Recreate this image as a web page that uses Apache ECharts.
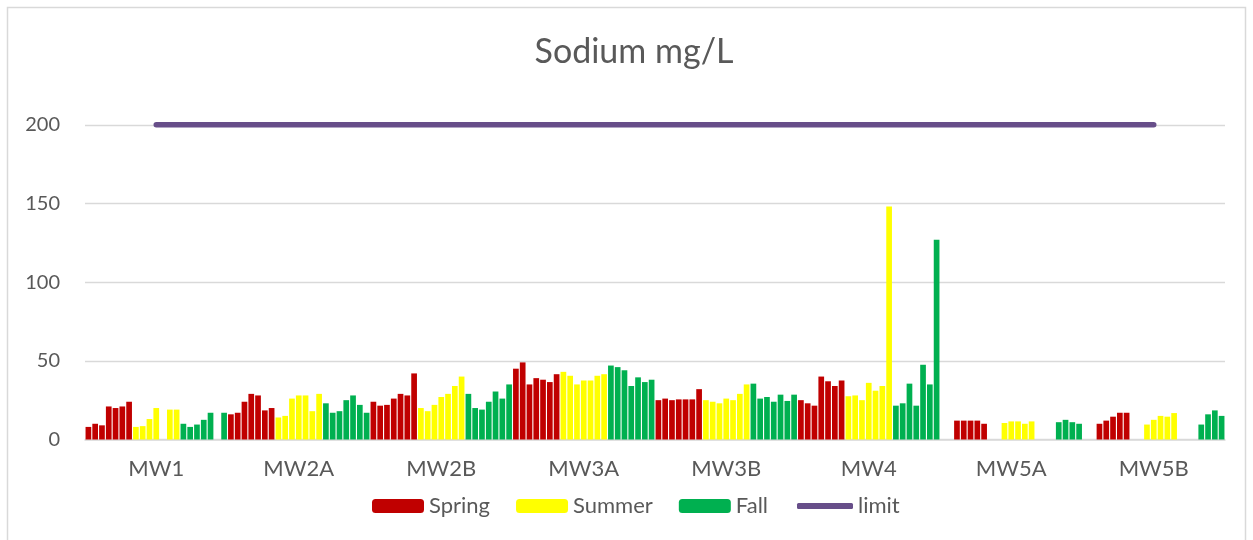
<!DOCTYPE html>
<html>
<head>
<meta charset="utf-8">
<script src="https://cdn.jsdelivr.net/npm/echarts@6/dist/echarts.min.js"></script>
<style>
html,body{margin:0;padding:0;background:#fff;}
#c{width:1253px;height:540px;}
</style>
</head>
<body>
<div id="c"></div>
<script>
// Wells (category groups) and seasonal samples (7 sampling years per season)
const wells = ['MW1','MW2A','MW2B','MW3A','MW3B','MW4','MW5A','MW5B'];
const spring = [
  [8,10,9,21,20,21,24],
  [16,17,24,29,28,18.5,20],
  [24,21.5,22,26,29,28,42],
  [45,49,35,39,38,36.5,41.5],
  [25,26,25,25.5,25.5,25.5,32],
  [25,23,21.5,40,37,34,37.5],
  [null,null,12,12,12,12,10],
  [null,null,10,12,14.5,17,17]
];
const summer = [
  [8,8.5,13,20,null,19,19],
  [14,15,26,28,28,18,29],
  [20,18,22,27,29,34,40],
  [43,40.5,35,37.5,37.5,40.5,41.5],
  [25,24,23,26,25,29,35],
  [27.5,28,25,36,31,34,148],
  [null,null,10.5,11.5,11.5,10,11.5],
  [null,null,9.5,12.5,15,14.5,16.8]
];
const fall = [
  [10,8,9.5,12.5,17,null,17],
  [23,17,18,25,28,22,17],
  [29,20,19,24,30.5,26,35],
  [47,46,44,34,39.5,36.5,38],
  [35.5,26,27,24,28.5,24.5,28.5],
  [21.5,23,35.5,21.5,47.5,35,127],
  [null,null,null,11,12.5,11,10],
  [null,null,null,9.5,16,18.5,15]
];
const limit = [200,200,200,200,200,200,200,200];
const yTicks = [0,50,100,150,200];

// Build slot-level data (each well: 7 spring + 7 summer + 7 fall slots)
const cats = [], sSpring = [], sSummer = [], sFall = [], sLimit = [];
wells.forEach((w, g) => {
  const seasons = [spring[g], summer[g], fall[g]];
  seasons.forEach((arr, si) => {
    arr.forEach((v, k) => {
      const slot = si * 7 + k;
      cats.push(w);
      sSpring.push(si === 0 ? v : null);
      sSummer.push(si === 1 ? v : null);
      sFall.push(si === 2 ? v : null);
      sLimit.push(slot === 10 ? limit[g] : null);
    });
  });
});

const FONT = 'Lato';
const TXT = '#595959';
const LIMIT_COLOR = '#674E89';
const chart = echarts.init(document.getElementById('c'), null, {renderer: 'canvas'});
chart.setOption({
  animation: false,
  backgroundColor: '#ffffff',
  textStyle: {fontFamily: FONT},
  title: {
    text: 'Sodium mg/L',
    left: 629, top: 30, textAlign: 'center',
    textStyle: {fontFamily: FONT, fontSize: 34, fontWeight: 'normal', color: TXT}
  },
  graphic: [{
    type: 'rect', silent: true, z: -10,
    shape: {x: 7.5, y: 7.5, width: 1238, height: 545},
    style: {fill: 'none', stroke: '#D9D9D9', lineWidth: 1.5}
  }],
  legend: [{
    data: ['Spring','Summer','Fall'],
    left: 367, top: 490,
    itemWidth: 52, itemHeight: 14, itemGap: 26,
    textStyle: {fontFamily: FONT, fontSize: 22, color: TXT}
  }, {
    data: [{name: 'limit', icon: 'roundRect'}],
    left: 792, top: 490,
    itemWidth: 56, itemHeight: 6, itemGap: 26,
    itemStyle: {color: LIMIT_COLOR, borderWidth: 0},
    textStyle: {fontFamily: FONT, fontSize: 22, color: TXT}
  }],
  grid: {left: 85, right: 28, top: 124.8, bottom: 100.5, containLabel: false},
  xAxis: {
    type: 'category', data: cats,
    axisLine: {lineStyle: {color: '#D9D9D9', width: 1.5}},
    axisTick: {show: false},
    axisLabel: {
      interval: (i) => i % 21 === 10,
      fontFamily: FONT, fontSize: 22, color: TXT, margin: 18
    },
    splitLine: {show: false}
  },
  yAxis: {
    type: 'value', min: yTicks[0], max: yTicks[yTicks.length - 1], interval: 50,
    axisLine: {show: false}, axisTick: {show: false},
    axisLabel: {fontFamily: FONT, fontSize: 20, color: TXT, margin: 25},
    splitLine: {lineStyle: {color: '#D9D9D9', width: 1.3}}
  },
  series: [
    {name: 'Spring', type: 'bar', stack: 'v', data: sSpring, barCategoryGap: '16%',
     itemStyle: {color: '#C00000'}},
    {name: 'Summer', type: 'bar', stack: 'v', data: sSummer, barCategoryGap: '16%',
     itemStyle: {color: '#FFFF00'}},
    {name: 'Fall', type: 'bar', stack: 'v', data: sFall, barCategoryGap: '16%',
     itemStyle: {color: '#00B050'}},
    {name: 'limit', type: 'line', data: sLimit, connectNulls: true,
     symbol: 'none', showSymbol: false, z: 5,
     lineStyle: {color: LIMIT_COLOR, width: 5.5, cap: 'round'},
     itemStyle: {color: LIMIT_COLOR}}
  ]
});
</script>
</body>
</html>
